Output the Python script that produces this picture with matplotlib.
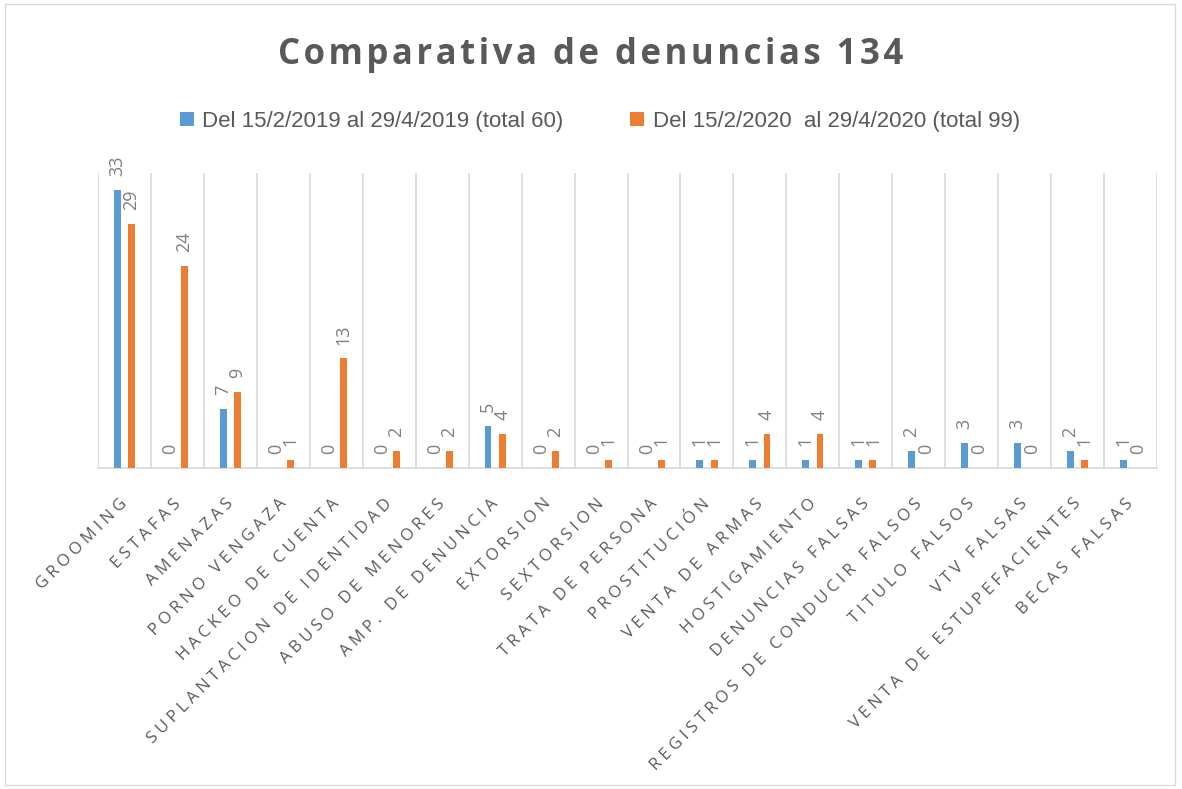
import matplotlib
matplotlib.use("Agg")
import matplotlib.pyplot as plt
import matplotlib.transforms as mtransforms
import numpy as np
from matplotlib.patches import Rectangle, Patch

categories = ["GROOMING", "ESTAFAS", "AMENAZAS", "PORNO VENGAZA", "HACKEO DE CUENTA",
              "SUPLANTACION DE IDENTIDAD", "ABUSO DE MENORES", "AMP. DE DENUNCIA",
              "EXTORSION", "SEXTORSION", "TRATA DE PERSONA", "PROSTITUCIÓN",
              "VENTA DE ARMAS", "HOSTIGAMIENTO", "DENUNCIAS FALSAS",
              "REGISTROS DE CONDUCIR FALSOS", "TITULO FALSOS", "VTV FALSAS",
              "VENTA DE ESTUPEFACIENTES", "BECAS FALSAS"]
values_2019 = [33, 0, 7, 0, 0, 0, 0, 5, 0, 0, 0, 1, 1, 1, 1, 2, 3, 3, 2, 1]
values_2020 = [29, 24, 9, 1, 13, 2, 2, 4, 2, 1, 1, 1, 4, 4, 1, 0, 0, 0, 1, 0]
series_names = ["Del 15/2/2019 al 29/4/2019 (total 60)",
                "Del 15/2/2020  al 29/4/2020 (total 99)"]
title = "Comparativa de denuncias 134"

BLUE = "#5B9BD5"
ORANGE = "#ED7D31"
GRID = "#D9D9D9"
TXT = "#595959"
LBL = "#808080"
FAM = ["Open Sans", "DejaVu Sans"]


def tracked(s, sep):
    """Emulate letter spacing by inserting narrow spaces between characters."""
    return sep.join(s)


W, H = 1182, 789
fig = plt.figure(figsize=(W / 100, H / 100), dpi=100)
fig.patch.set_facecolor("white")
fig.add_artist(Rectangle((5 / W, 4 / H), 1170 / W, 781 / H, transform=fig.transFigure,
                         fill=False, edgecolor=GRID, linewidth=1))

ax = fig.add_axes([98 / W, 1 - 468 / H, (1157 - 98) / W, (468 - 173) / H])
x = np.arange(len(categories))
bw = 0.13
off = 0.135
b1 = ax.bar(x - off, values_2019, bw, color=BLUE, zorder=3)
b2 = ax.bar(x + off, values_2020, bw, color=ORANGE, zorder=3)

ax.set_xlim(-0.5, len(categories) - 0.5)
ax.set_ylim(0, 35)
ax.set_yticks([])
for s in ["top", "right", "left"]:
    ax.spines[s].set_visible(False)
ax.spines["bottom"].set_color(GRID)
ax.spines["bottom"].set_linewidth(1.2)

ax.set_xticks(np.arange(-0.5, len(categories)), minor=True)
ax.grid(which="minor", axis="x", color=GRID, linewidth=1.2, zorder=0)
ax.tick_params(axis="x", which="minor", length=0)
ax.set_xticks(x)
ax.set_xticklabels([tracked(c, "\u2005") for c in categories], rotation=45, ha="right",
                   rotation_mode="anchor", fontsize=12, color=TXT, family=FAM)
ax.tick_params(axis="x", which="major", length=0, pad=20)
shift = mtransforms.ScaledTranslation(-5 / 100, 0, fig.dpi_scale_trans)
for lab in ax.get_xticklabels():
    lab.set_transform(lab.get_transform() + shift)

for bars, vals in ((b1, values_2019), (b2, values_2020)):
    for rect, v in zip(bars, vals):
        ax.annotate(str(v), (rect.get_x() + rect.get_width() / 2, v),
                    xytext=(0, 10), textcoords="offset points", rotation=90,
                    ha="center", va="bottom", fontsize=13, color=LBL, family=FAM)

fig.text(0.5, 1 - 64 / H, tracked(title, "\u200a"), ha="center", va="baseline",
         fontsize=25, fontweight="bold", color=TXT, family=FAM)

handles = [Patch(facecolor=BLUE), Patch(facecolor=ORANGE)]
leg = fig.legend(handles, series_names, loc="center",
                 bbox_to_anchor=(600 / W, 1 - 121 / H),
                 ncol=2, frameon=False, handlelength=0.6, handleheight=0.6,
                 handletextpad=0.4, columnspacing=3.0,
                 prop={"family": ["Liberation Sans Narrow", "Liberation Sans"], "size": 16})
for t in leg.get_texts():
    t.set_color(TXT)

fig.savefig("out.png", dpi=100)
